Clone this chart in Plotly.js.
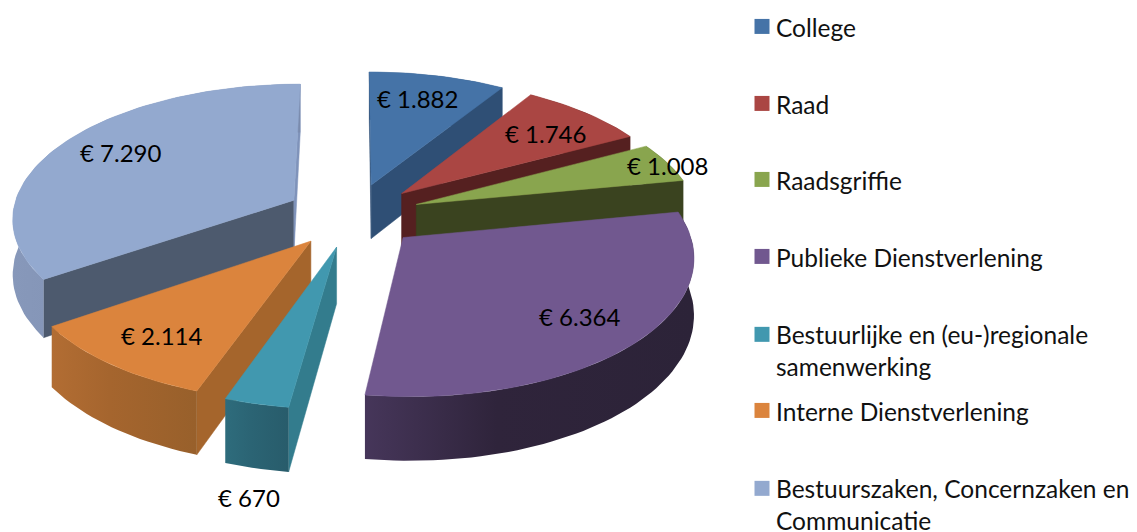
<!DOCTYPE html>
<html><head><meta charset="utf-8">
<script src="https://cdn.plot.ly/plotly-3.0.1.min.js"></script>
<style>html,body{margin:0;padding:0;background:#fff}#c{width:1137px;height:532px}</style>
</head><body><div id="c"></div>
<script>
const categories = ["College","Raad","Raadsgriffie","Publieke Dienstverlening","Bestuurlijke en (eu-)regionale<br>samenwerking","Interne Dienstverlening","Bestuurszaken, Concernzaken en<br>Communicatie"];
const values = [1882,1746,1008,6364,670,2114,7290];
const valueLabels = ["€ 1.882","€ 1.746","€ 1.008","€ 6.364","€ 670","€ 2.114","€ 7.290"];
const topColors = ["#4573A7","#AA4643","#89A54E","#71588F","#4198AF","#DB843D","#93A9CF"];
const startWall = ["#2F4F75","#552020","#3A431F","#3A2D4C","#337C8D","#A5652C","#4D5A6E"];
const endWall = ["#2F4F75","#552020","#3A431F","#3A2D4C","#2B6778","#8F5A2C","#7F93BA"];
const rimLeft = ["#2F4F75","#552020","#3A431F","#46365A","#2E6C7C","#B26D33","#8798BA"];
const rimMid = ["#2F4F75","#552020","#3A431F","#2F243B","#2B6474","#A5652E","#8091B3"];
const rimRight = ["#2F4F75","#552020","#3A431F","#2C2338","#285C6B","#98602B","#7A8BAD"];
const labelX = [417,545,667,579,249,161,120];
const labelY = [98,133,165,316,497,335,152];
const legendRowY = [28,105,181,258,335,412,489];
const drawOrder = [0,1,2,6,5,4,3];

// view of the tilted, exploded disc
const cx=353, cy=215, A=282, B=133.7, persp=0.122, H=55, explode=0.24;
function proj(X,Y,z){const s=1/(1-persp*Y);return [cx+A*X*s, cy+B*Y*s+H*z*s];}

const total = values.reduce((a,b)=>a+b,0);
let acc=0;
const slices = values.map((v,i)=>{
  const a0=acc/total*2*Math.PI; acc+=v; const a1=acc/total*2*Math.PI;
  const m=(a0+a1)/2;
  return {i,a0,a1,m,ox:explode*Math.sin(m),oy:-explode*Math.cos(m)};
});
function rimPt(s,a,z){return proj(s.ox+Math.sin(a),s.oy-Math.cos(a),z);}
function apexPt(s,z){return proj(s.ox,s.oy,z);}
function arc(s,z,rev){
  const n=Math.max(2,Math.ceil((s.a1-s.a0)/0.03)),p=[];
  for(let k=0;k<=n;k++){p.push(rimPt(s,s.a0+(s.a1-s.a0)*k/n,z));}
  return rev?p.reverse():p;
}
function poly(pts,opts){
  const xs=pts.map(p=>p[0]).concat(pts[0][0]), ys=pts.map(p=>p[1]).concat(pts[0][1]);
  return Object.assign({type:'scatter',mode:'lines',x:xs,y:ys,fill:'toself',line:{width:0},hoverinfo:'skip',showlegend:false},opts);
}
function solid(c){return {fillcolor:c,line:{width:0.5,color:c}};}
function grad(l,m,r){return {fillgradient:{type:'horizontal',colorscale:[[0,l],[0.4,m],[1,r]]},fillcolor:m};}

const traces=[];
drawOrder.forEach(idx=>{
  const s=slices[idx];
  const A0=apexPt(s,0),A1=apexPt(s,1);
  const P=rimPt(s,s.a0,0),Pb=rimPt(s,s.a0,1);
  const Q=rimPt(s,s.a1,0),Qb=rimPt(s,s.a1,1);
  const O=rimPt(s,s.m,0);
  // a cut face is seen only if the slice's top lies above its upper edge
  const seen=E=>{
    const ex=E[0]-A0[0],ey=E[1]-A0[1];
    const side=ex*(O[1]-A0[1])-ey*(O[0]-A0[0]);
    return side*ex<0;
  };
  if(seen(P)) traces.push(poly([A0,P,Pb,A1],solid(startWall[idx])));
  if(seen(Q)) traces.push(poly([A0,Q,Qb,A1],solid(endWall[idx])));
  traces.push(poly(arc(s,0,false).concat(arc(s,1,true)),grad(rimLeft[idx],rimMid[idx],rimRight[idx])));
  traces.push(poly([A0].concat(arc(s,0,false)),solid(topColors[idx])));
});

const fontFam='Lato, Carlito, sans-serif';
const layout={width:1137,height:532,margin:{l:0,r:0,t:0,b:0,autoexpand:false},paper_bgcolor:'#fff',plot_bgcolor:'#fff',
  xaxis:{range:[0,1137],visible:false,fixedrange:true},
  yaxis:{range:[532,0],visible:false,fixedrange:true},
  showlegend:true,
  annotations:valueLabels.map((t,i)=>({text:t,x:labelX[i],y:labelY[i],xref:'x',yref:'y',showarrow:false,
    xanchor:'center',yanchor:'middle',font:{family:fontFam,size:24,color:'#000'}}))
};
// one native legend per row, because the rows keep an even pitch even where a label wraps
categories.forEach((c,i)=>{
  const id=i===0?'legend':'legend'+(i+1);
  traces.push({type:'scatter',mode:'markers',x:[null],y:[null],name:c,legend:id,
    marker:{symbol:'square',size:15,color:topColors[i]},hoverinfo:'skip'});
  layout[id]={x:736/1137,xanchor:'left',y:1-(legendRowY[i]-23)/532,yanchor:'top',
    font:{family:fontFam,size:24.5,color:'#111'},bgcolor:'rgba(0,0,0,0)',itemclick:false,itemdoubleclick:false};
});
Plotly.newPlot('c',traces,layout,{displayModeBar:false,staticPlot:true}).then(()=>{
  // align each swatch with the first line of its label
  document.querySelectorAll('.legendpoints').forEach(g=>{
    let n=g;
    while(n && n.querySelector && !n.querySelector('text')) n=n.parentNode;
    const two=n && n.querySelector && n.querySelector('text').getBBox().height>45;
    g.setAttribute('transform','translate(6,'+(two?-16:-1)+')');
  });
});
</script></body></html>
